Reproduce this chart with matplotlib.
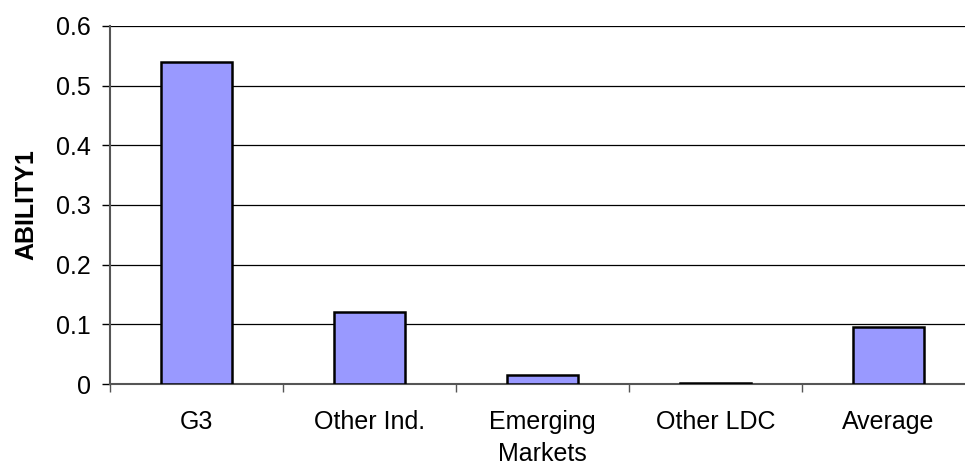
import matplotlib
matplotlib.use("Agg")
import matplotlib.pyplot as plt
import numpy as np

categories = ["G3", "Other Ind.", "Emerging\nMarkets", "Other LDC", "Average"]
ability1 = [0.54, 0.12, 0.015, 0.002, 0.095]
y_ticks = [0, 0.1, 0.2, 0.3, 0.4, 0.5, 0.6]
y_tick_labels = ["0", "0.1", "0.2", "0.3", "0.4", "0.5", "0.6"]

plt.rcParams["font.family"] = ["Liberation Sans", "DejaVu Sans"]
FS = 18

W, H = 965, 466
fig = plt.figure(figsize=(W / 100, H / 100), dpi=100)
left, right, top, bottom = 110, 975, 26, 384
ax = fig.add_axes([left / W, (H - bottom) / H, (right - left) / W, (bottom - top) / H])

x = np.arange(len(categories)) + 0.5
ax.bar(x, ability1, width=0.41, color="#9999FF", edgecolor="black",
       linewidth=1.8, zorder=3)

ax.set_xlim(0, len(categories))
ax.set_ylim(0, 0.6)

ax.set_yticks(y_ticks)
ax.set_yticklabels(y_tick_labels, fontsize=FS)
ax.yaxis.grid(True, color="black", linewidth=0.9, zorder=0)
ax.tick_params(axis="y", length=6, width=1, color="black", pad=8)

# category boundaries carry the tick marks, centres carry the labels
ax.set_xticks(np.arange(len(categories) + 1))
ax.set_xticklabels([])
ax.tick_params(axis="x", which="major", length=5.5, width=1, color="#555555")
ax.set_xticks(x, minor=True)
ax.set_xticklabels(categories, minor=True, fontsize=FS, linespacing=1.38)
ax.tick_params(axis="x", which="minor", length=0, pad=19)

for side in ("top", "right"):
    ax.spines[side].set_visible(False)
for side in ("left", "bottom"):
    ax.spines[side].set_color("#555555")
    ax.spines[side].set_linewidth(1.5)

ax.set_ylabel("ABILITY1", fontsize=FS, fontweight="bold")
ax.yaxis.set_label_coords((38 - left) / (right - left), 0.5)

fig.savefig("out.png", dpi=100)
